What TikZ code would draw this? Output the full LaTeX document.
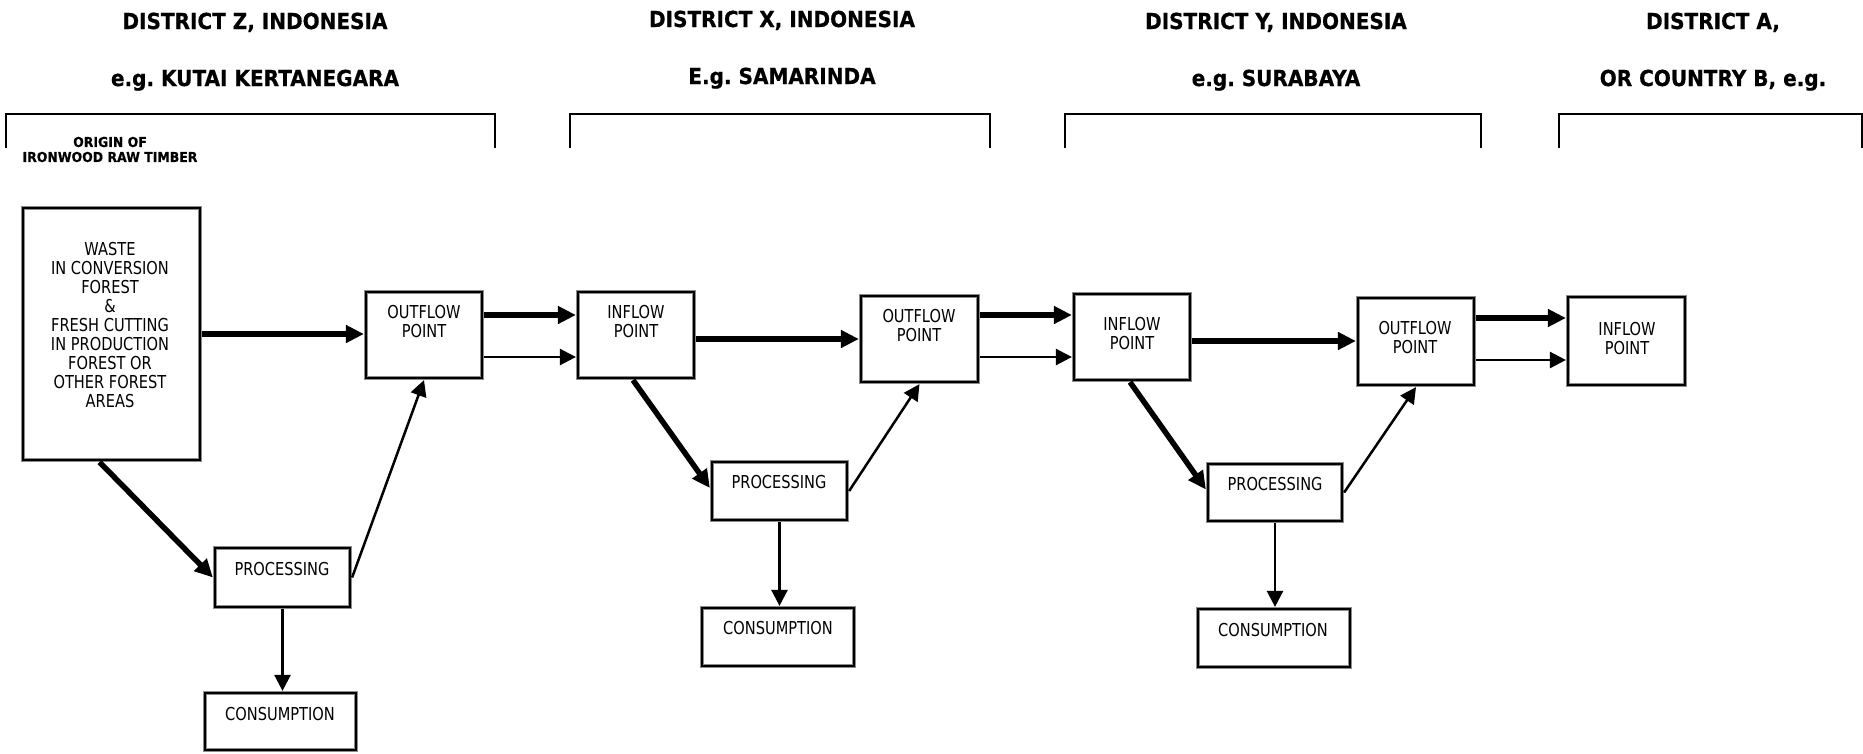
\documentclass[tikz,border=0pt]{standalone}
\usepackage{fontspec}
\setmainfont{DejaVu Sans}
\newfontfamily\boxfont{DejaVu Sans}[FakeStretch=0.82]
\newfontfamily\headfont{DejaVu Sans}[FakeStretch=0.91, BoldFeatures={FakeBold=0.6}]
\usetikzlibrary{arrows.meta}
\frenchspacing
\begin{document}
\begin{tikzpicture}[x=1pt,y=-1pt,
  box/.style={rectangle, draw=black, line width=2.2pt,
    preaction={draw=black!45, line width=4.2pt},
    inner sep=0pt, outer sep=2.1pt},
  lbl/.style={font=\boxfont\fontsize{17.8}{19}\selectfont, align=center, inner sep=0pt},
  head/.style={font=\headfont\bfseries\fontsize{22}{26}\selectfont, inner sep=0pt, anchor=base},
  origin/.style={font=\headfont\bfseries\fontsize{13.7}{15}\selectfont, align=center, inner sep=0pt},
  heavy/.style={line width=5.5pt, -{Triangle[length=18pt,width=17pt]}},
  light/.style={line width=2.5pt, -{Triangle[length=16pt,width=16pt]}},
  bracket/.style={line width=2pt}]
\useasboundingbox (0,0) rectangle (1863,753);

% district headings
\node[head] (hz1) at (255,29) {DISTRICT Z, INDONESIA};
\node[head] (hz2) at (255,86) {e.g. KUTAI KERTANEGARA};
\node[head] (hx1) at (782,27) {DISTRICT X, INDONESIA};
\node[head] (hx2) at (782,84) {E.g. SAMARINDA};
\node[head] (hy1) at (1276,29) {DISTRICT Y, INDONESIA};
\node[head] (hy2) at (1276,86) {e.g. SURABAYA};
\node[head] (ha1) at (1713,29) {DISTRICT A,};
\node[head] (ha2) at (1713,86) {OR COUNTRY B, e.g.};

% brackets under the headings
\draw[bracket] (6,148) |- (495,114) -- (495,148);
\draw[bracket] (570,148) |- (990,114) -- (990,148);
\draw[bracket] (1065,148) |- (1481,114) -- (1481,148);
\draw[bracket] (1559,148) |- (1862,114) -- (1862,148);

\node[origin] (org) at (110,149.5) {ORIGIN OF\\IRONWOOD RAW TIMBER};

% boxes
\node[box, minimum width=177pt, minimum height=252pt] (wz) at (111.5,334) {};
\node[box, minimum width=116pt, minimum height=86pt] (oz) at (424,335) {};
\node[box, minimum width=116pt, minimum height=86pt] (ix) at (636,335) {};
\node[box, minimum width=117pt, minimum height=86pt] (ox) at (919.5,339) {};
\node[box, minimum width=116pt, minimum height=86pt] (iy) at (1132,337) {};
\node[box, minimum width=116pt, minimum height=87pt] (oy) at (1416,341.5) {};
\node[box, minimum width=117pt, minimum height=88pt] (ia) at (1626.5,341) {};
\node[box, minimum width=135pt, minimum height=59pt] (pz) at (282.5,577.5) {};
\node[box, minimum width=135pt, minimum height=58pt] (px) at (779.5,491) {};
\node[box, minimum width=134pt, minimum height=57pt] (py) at (1275,492.5) {};
\node[box, minimum width=151pt, minimum height=57pt] (cz) at (280.5,721.5) {};
\node[box, minimum width=152pt, minimum height=58pt] (cx) at (778,637) {};
\node[box, minimum width=152pt, minimum height=58pt] (cy) at (1274,638) {};

% box texts
\node[lbl] (twz) at (110,325) {WASTE\\IN CONVERSION\\FOREST\\\&\\FRESH CUTTING\\IN PRODUCTION\\FOREST OR\\OTHER FOREST\\AREAS};
\node[lbl] (toz) at (424,322) {OUTFLOW\\POINT};
\node[lbl] (tix) at (636,321.5) {INFLOW\\POINT};
\node[lbl] (tox) at (919,326) {OUTFLOW\\POINT};
\node[lbl] (tiy) at (1132,333.5) {INFLOW\\POINT};
\node[lbl] (toy) at (1415,338) {OUTFLOW\\POINT};
\node[lbl] (tia) at (1627,339) {INFLOW\\POINT};
\node[lbl] (tpz) at (282,569) {PROCESSING};
\node[lbl] (tpx) at (779,482) {PROCESSING};
\node[lbl] (tpy) at (1275,484) {PROCESSING};
\node[lbl] (tcz) at (280,714) {CONSUMPTION};
\node[lbl] (tcx) at (778,628) {CONSUMPTION};
\node[lbl] (tcy) at (1273,630) {CONSUMPTION};

% flows between districts
\draw[heavy] (wz.east |- 0,334) -- (oz.west |- 0,334);
\draw[heavy] (oz.east |- 0,315) -- (ix.west |- 0,315);
\draw[light] (oz.east |- 0,357) -- (ix.west |- 0,357);
\draw[heavy] (ix.east |- 0,339) -- (ox.west |- 0,339);
\draw[heavy] (ox.east |- 0,315) -- (iy.west |- 0,315);
\draw[light] (ox.east |- 0,357) -- (iy.west |- 0,357);
\draw[heavy] (iy.east |- 0,341) -- (oy.west |- 0,341);
\draw[heavy] (oy.east |- 0,318) -- (ia.west |- 0,318);
\draw[light] (oy.east |- 0,360) -- (ia.west |- 0,360);

% processing loops
\draw[heavy] ([xshift=-12pt]wz.south) -- (pz.west);
\draw[light] (pz.east) -- (oz.south);
\draw[heavy] ([xshift=-3pt]ix.south) -- ([yshift=3pt]px.west);
\draw[light] (px.east) -- (ox.south);
\draw[heavy] ([xshift=-2pt]iy.south) -- ([yshift=3pt]py.west);
\draw[light] (py.east) -- (oy.south);

% consumption
\draw[light] (pz.south) -- (pz.south |- cz.north);
\draw[light] (px.south) -- (px.south |- cx.north);
\draw[light] (py.south) -- (py.south |- cy.north);
\end{tikzpicture}
\end{document}
